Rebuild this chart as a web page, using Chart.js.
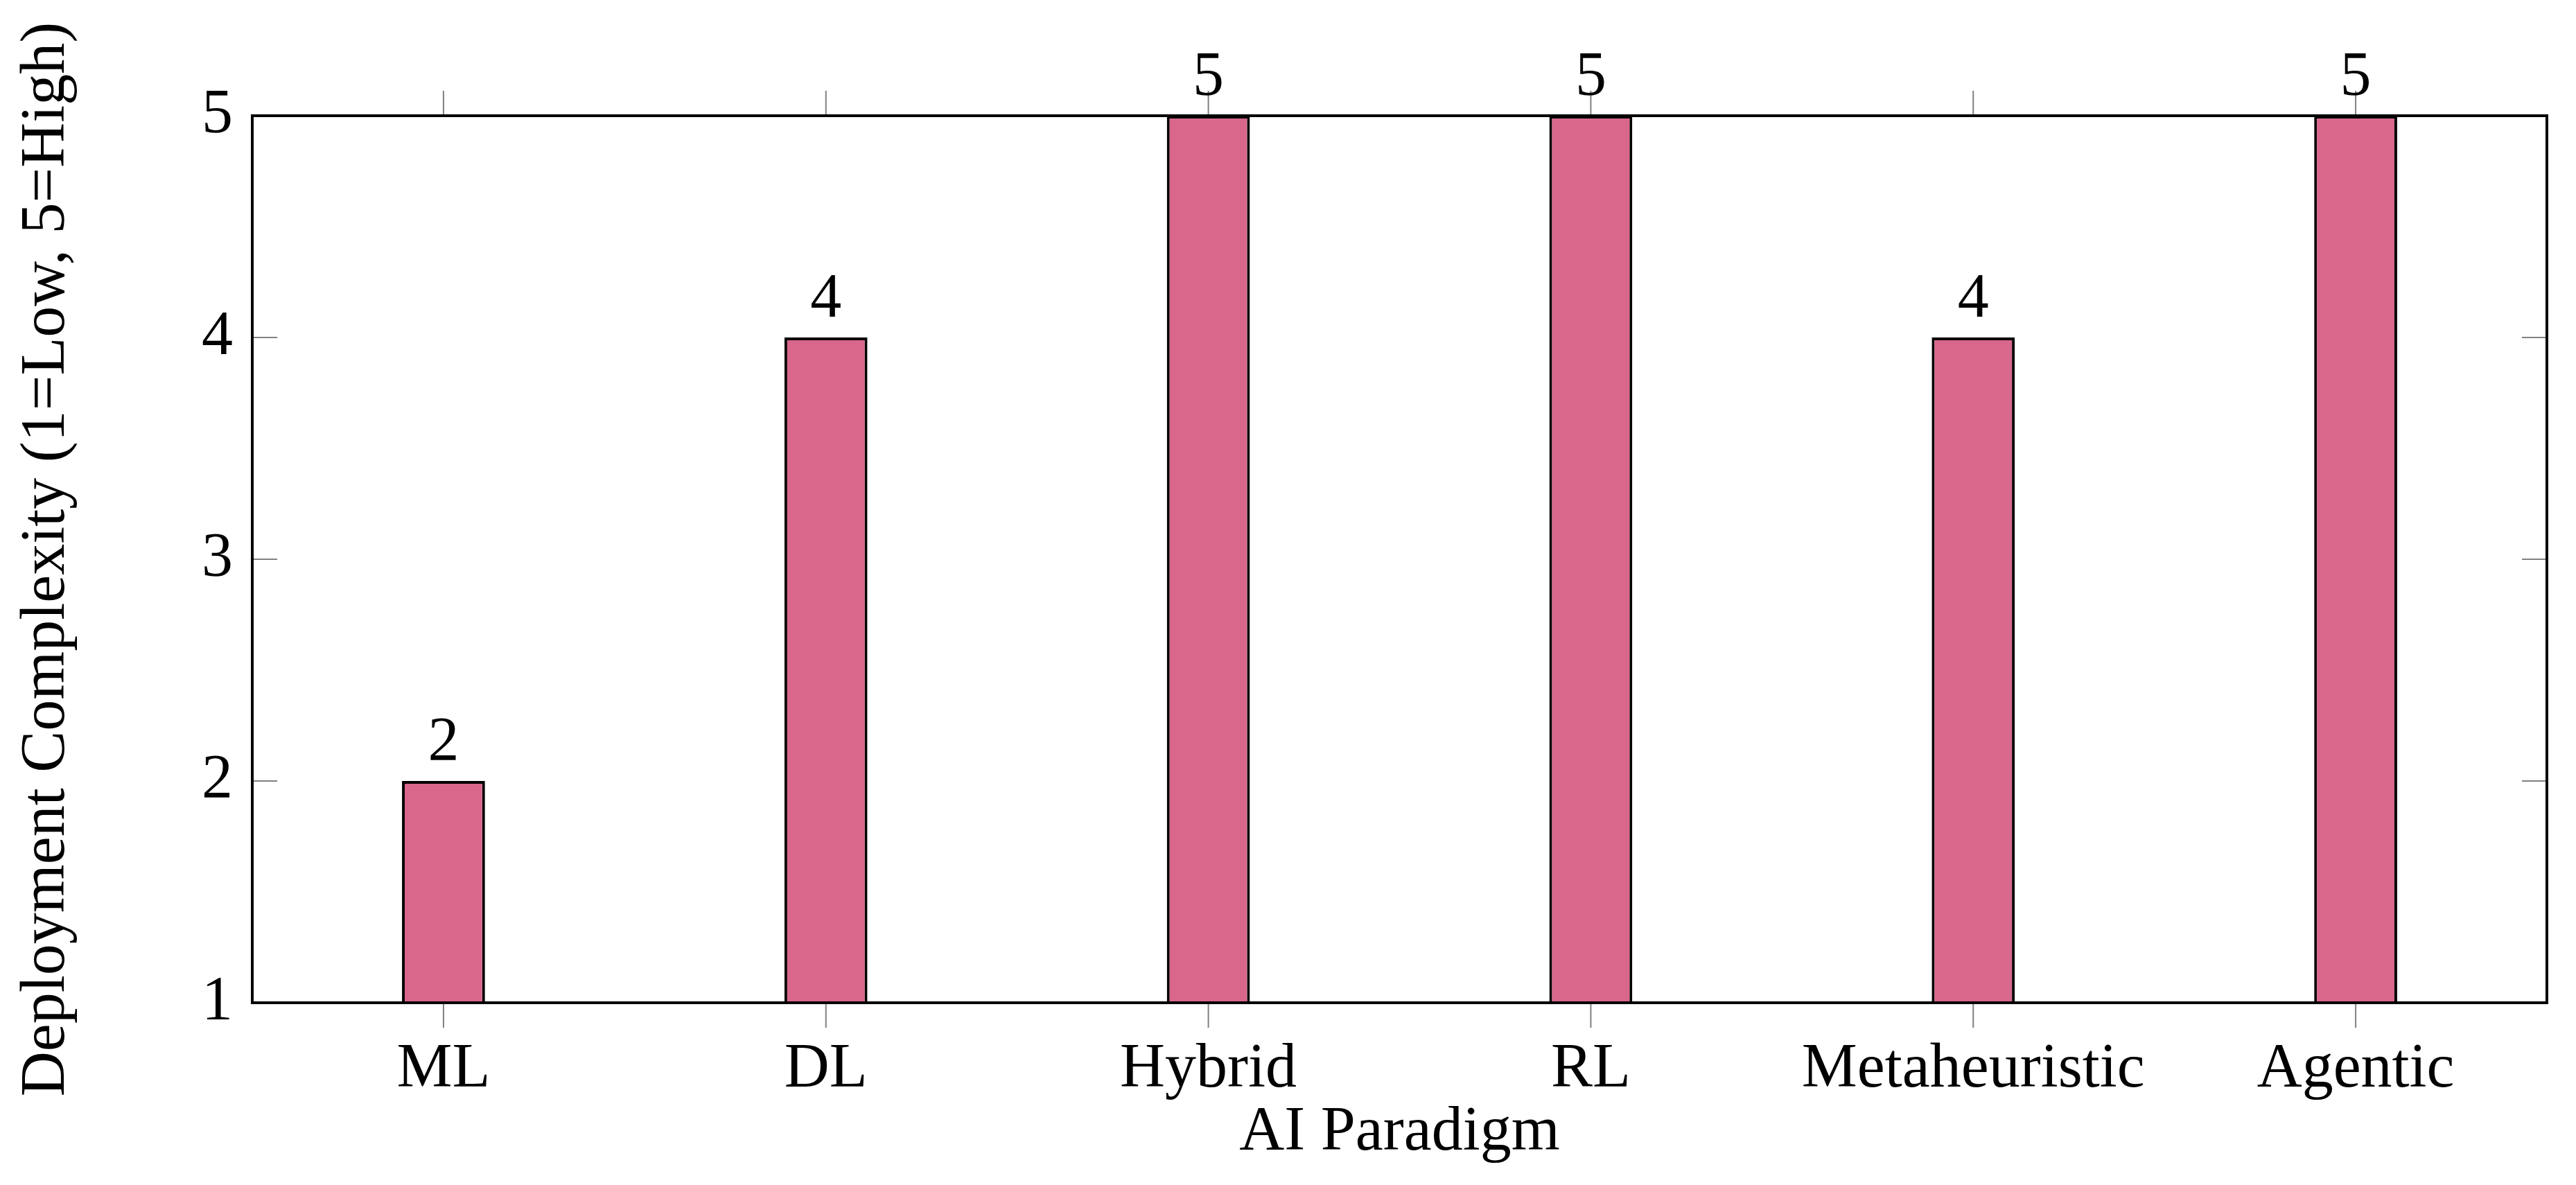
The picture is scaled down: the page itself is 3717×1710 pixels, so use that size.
<!DOCTYPE html>
<html>
<head>
<meta charset="utf-8">
<script src="https://cdn.jsdelivr.net/npm/chart.js@4/dist/chart.umd.min.js"></script>
<style>
  html, body { margin: 0; padding: 0; background: #ffffff; }
  #wrap { width: 3717px; height: 1710px; }
</style>
</head>
<body>
<div id="wrap"><canvas id="c" width="3717" height="1710"></canvas></div>
<script>
const categories = ["ML", "DL", "Hybrid", "RL", "Metaheuristic", "Agentic"];
const complexity = [2, 4, 5, 5, 4, 5];
const yTicks = [1, 2, 3, 4, 5];
const xTitle = "AI Paradigm";
const yTitle = "Deployment Complexity (1=Low, 5=High)";

const FONT = "'Liberation Serif', 'Times New Roman', serif";
const FS = 90;

const decor = {
  id: 'decor',
  afterDatasetsDraw(chart) {
    const ctx = chart.ctx;
    const a = chart.chartArea;
    const xs = chart.scales.x, ys = chart.scales.y;
    ctx.save();
    // tick marks
    ctx.strokeStyle = '#808080';
    ctx.lineWidth = 2;
    ctx.beginPath();
    for (let i = 0; i < categories.length; i++) {
      const px = xs.getPixelForTick(i);
      ctx.moveTo(px, a.bottom); ctx.lineTo(px, a.bottom + 36);
      ctx.moveTo(px, a.top); ctx.lineTo(px, a.top - 36);
    }
    yTicks.forEach(v => {
      const py = ys.getPixelForValue(v);
      ctx.moveTo(a.left, py); ctx.lineTo(a.left + 36, py);
      ctx.moveTo(a.right, py); ctx.lineTo(a.right - 36, py);
    });
    ctx.stroke();
    // frame
    ctx.strokeStyle = '#000000';
    ctx.lineWidth = 4;
    ctx.strokeRect(a.left, a.top, a.right - a.left, a.bottom - a.top);
    // value labels
    ctx.fillStyle = '#000000';
    ctx.font = FS + "px " + FONT;
    ctx.textAlign = 'center';
    ctx.textBaseline = 'alphabetic';
    const meta = chart.getDatasetMeta(0);
    meta.data.forEach((el, i) => {
      ctx.fillText(String(complexity[i]), el.x, el.y - 30);
    });
    ctx.restore();
  }
};

new Chart(document.getElementById('c'), {
  type: 'bar',
  data: {
    labels: categories,
    datasets: [{
      data: complexity,
      backgroundColor: '#d9668b',
      borderColor: '#000000',
      borderWidth: 4,
      borderSkipped: false,
      barPercentage: 0.217,
      categoryPercentage: 1.0
    }]
  },
  options: {
    responsive: false,
    devicePixelRatio: 1,
    animation: false,
    layout: { padding: { top: 167, right: 42, left: 0, bottom: 0 } },
    plugins: {
      legend: { display: false },
      tooltip: { enabled: false }
    },
    scales: {
      x: {
        type: 'category',
        position: 'bottom',
        offset: true,
        grid: { display: false, drawTicks: false },
        border: { display: false },
        ticks: {
          color: '#000000',
          font: { family: FONT, size: FS },
          padding: 43,
          maxRotation: 0,
          autoSkip: false
        },
        title: {
          display: true,
          text: xTitle,
          color: '#000000',
          font: { family: FONT, size: FS },
          padding: { top: 0, bottom: 21 }
        },
        afterFit(s) { s.height = 263; }
      },
      y: {
        min: 1,
        max: 5,
        grid: { display: false, drawTicks: false },
        border: { display: false },
        ticks: {
          stepSize: 1,
          color: '#000000',
          font: { family: FONT, size: FS },
          padding: 28
        },
        title: {
          display: true,
          text: yTitle,
          color: '#000000',
          font: { family: FONT, size: FS },
          padding: { top: 14, bottom: 0 }
        },
        afterFit(s) { s.width = 364; }
      }
    }
  },
  plugins: [decor]
});
</script>
</body>
</html>
